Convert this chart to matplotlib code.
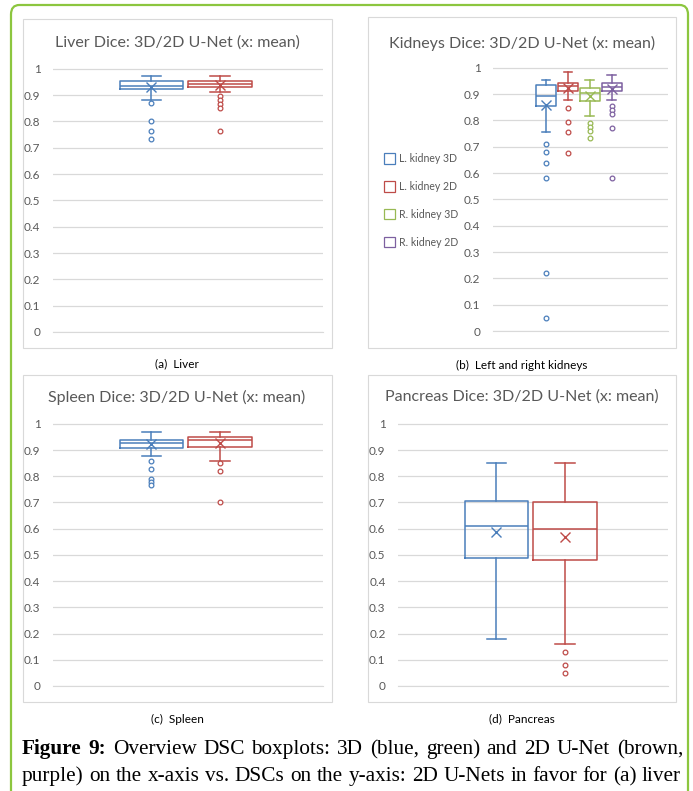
import numpy as np
import matplotlib
matplotlib.use("Agg")
import matplotlib.pyplot as plt
from matplotlib.patches import FancyBboxPatch, Rectangle, Patch

# ---- data ----
liver_q1 = [0.922, 0.931]
liver_med = [0.936, 0.941]
liver_q3 = [0.952, 0.952]
liver_lo = [0.883, 0.912]
liver_hi = [0.972, 0.972]
liver_mean = [0.932, 0.940]
liver_fliers = [[0.871, 0.802, 0.763, 0.732], [0.896, 0.881, 0.866, 0.851, 0.763]]

kidney_labels = ["L. kidney 3D", "L. kidney 2D", "R. kidney 3D", "R. kidney 2D"]
kidney_q1 = [0.855, 0.913, 0.872, 0.910]
kidney_med = [0.892, 0.930, 0.905, 0.927]
kidney_q3 = [0.934, 0.944, 0.923, 0.944]
kidney_lo = [0.755, 0.876, 0.815, 0.876]
kidney_hi = [0.953, 0.984, 0.954, 0.973]
kidney_mean = [0.860, 0.923, 0.892, 0.918]
kidney_fliers = [[0.71, 0.68, 0.64, 0.58, 0.22, 0.05],
                 [0.846, 0.794, 0.755, 0.675],
                 [0.790, 0.775, 0.760, 0.734],
                 [0.856, 0.840, 0.823, 0.773, 0.58]]

spleen_q1 = [0.909, 0.911]
spleen_med = [0.925, 0.938]
spleen_q3 = [0.938, 0.948]
spleen_lo = [0.879, 0.859]
spleen_hi = [0.970, 0.970]
spleen_mean = [0.922, 0.925]
spleen_fliers = [[0.859, 0.829, 0.791, 0.778, 0.765], [0.849, 0.820, 0.700]]

pancreas_q1 = [0.490, 0.482]
pancreas_med = [0.610, 0.600]
pancreas_q3 = [0.706, 0.700]
pancreas_lo = [0.180, 0.160]
pancreas_hi = [0.851, 0.851]
pancreas_mean = [0.589, 0.567]
pancreas_fliers = [[], [0.130, 0.081, 0.051]]

titles = ["Liver Dice: 3D/2D U-Net (x: mean)", "Kidneys Dice: 3D/2D U-Net (x: mean)",
          "Spleen Dice: 3D/2D U-Net (x: mean)", "Pancreas Dice: 3D/2D U-Net (x: mean)"]
subcaps = ["(a)  Liver", "(b)  Left and right kidneys", "(c)  Spleen", "(d)  Pancreas"]
yticks = [0, 0.1, 0.2, 0.3, 0.4, 0.5, 0.6, 0.7, 0.8, 0.9, 1]
ytick_labels = ["0", "0.1", "0.2", "0.3", "0.4", "0.5", "0.6", "0.7", "0.8", "0.9", "1"]

BLUE, RED, GREEN, PURPLE = "#4A7EBB", "#BE4B48", "#98B954", "#7D60A0"
GRID = "#D9D9D9"
TXT = "#595959"

W, H = 693, 791
fig = plt.figure(figsize=(W / 100, H / 100), dpi=100)


def fx(px):
    return px / W


def fy(py):
    return 1 - py / H


def stats_list(q1, med, q3, lo, hi, mean, fliers):
    out = []
    for i in range(len(q1)):
        out.append(dict(q1=q1[i], med=med[i], q3=q3[i], whislo=lo[i], whishi=hi[i],
                        mean=mean[i], fliers=fliers[i]))
    return out


def panel(box_px, frame_px, title, title_xy, subcap, sub_xy, stats, colors, xlim, width, capw):
    l, t, r, b = box_px
    ax = fig.add_axes([fx(l), fy(b), (r - l) / W, (b - t) / H])
    fl, ft, fr, fb = frame_px
    fig.patches.append(Rectangle((fx(fl), fy(fb)), (fr - fl) / W, (fb - ft) / H,
                                 transform=fig.transFigure, fill=False, ec=GRID, lw=0.8))
    art = ax.bxp(stats, positions=range(1, len(stats) + 1), widths=width, capwidths=capw,
                 showmeans=True, patch_artist=False)
    for i, c in enumerate(colors):
        art["boxes"][i].set(color=c, lw=1.1)
        art["medians"][i].set(color=c, lw=1.1)
        for k in (2 * i, 2 * i + 1):
            art["whiskers"][k].set(color=c, lw=1.1)
            art["caps"][k].set(color=c, lw=1.1)
        art["fliers"][i].set(marker="o", mfc="white", mec=c, ms=3.4, mew=0.9)
        art["means"][i].set(marker="x", mec=c, mfc=c, ms=6.5, mew=1.0)
    ax.set_xlim(*xlim)
    ax.set_ylim(0, 1.003)
    ax.set_yticks(yticks)
    ax.set_yticklabels(ytick_labels)
    ax.set_xticks([])
    ax.yaxis.grid(True, color=GRID, lw=0.9)
    ax.set_axisbelow(True)
    for s in ("top", "right", "left"):
        ax.spines[s].set_visible(False)
    ax.spines["bottom"].set_color(GRID)
    ax.tick_params(axis="y", length=0, pad=9, labelsize=8.5, labelcolor=TXT)
    for lab in ax.get_yticklabels():
        lab.set_family("Lato")
    fig.text(fx(title_xy[0]), fy(title_xy[1]), title, ha="center", va="center",
             fontsize=11.5, color=TXT, family="Lato")
    fig.text(fx(sub_xy[0]), fy(sub_xy[1]), subcap, ha="center", va="center",
             fontsize=8.5, color="black", family="Lato")
    return ax


pair = [BLUE, RED]
panel((53, 68, 323, 332), (23, 19, 332, 348), titles[0], (177, 43), subcaps[0], (177, 364),
      stats_list(liver_q1, liver_med, liver_q3, liver_lo, liver_hi, liver_mean, liver_fliers),
      pair, (-0.44, 3.51), 0.93, 0.29)
axk = panel((493, 67, 668, 331), (368, 17, 676, 348), titles[1], (522, 43), subcaps[1], (522, 365),
            stats_list(kidney_q1, kidney_med, kidney_q3, kidney_lo, kidney_hi, kidney_mean, kidney_fliers),
            [BLUE, RED, GREEN, PURPLE], (-1.42, 6.57), 0.91, 0.4)
panel((53, 423, 323, 686), (23, 375, 332, 702), titles[2], (177, 397), subcaps[2], (177, 719),
      stats_list(spleen_q1, spleen_med, spleen_q3, spleen_lo, spleen_hi, spleen_mean, spleen_fliers),
      pair, (-0.44, 3.51), 0.93, 0.29)
panel((398, 423, 668, 686), (368, 375, 676, 702), titles[3], (522, 397), subcaps[3], (522, 719),
      stats_list(pancreas_q1, pancreas_med, pancreas_q3, pancreas_lo, pancreas_hi, pancreas_mean, pancreas_fliers),
      pair, (-0.44, 3.51), 0.93, 0.29)

# kidney legend on the left of the plot area
handles = [Patch(facecolor="white", edgecolor=c, lw=0.9) for c in [BLUE, RED, GREEN, PURPLE]]
leg = fig.legend(handles, kidney_labels, loc="upper left", bbox_to_anchor=(fx(384), fy(153)),
                 frameon=False, handlelength=1.0, handleheight=1.15,
                 handletextpad=0.45, labelspacing=1.6, borderaxespad=0, borderpad=0,
                 prop={"family": "Lato", "size": 7.6})
for tx in leg.get_texts():
    tx.set_color(TXT)

# green rounded frame around the figure (runs off the bottom)
fig.patches.append(FancyBboxPatch((fx(11), fy(830)), (688 - 11) / W, (830 - 5) / H,
                                  boxstyle="round,pad=0,rounding_size=0.012",
                                  transform=fig.transFigure, fill=False, ec="#8CC63F", lw=1.6))

# caption, justified like the source text
renderer = fig.canvas.get_renderer()


def justify(words, base_py, x0, x1, size=15.3):
    items = []
    for w, weight in words:
        items.append(fig.text(0, fy(base_py), w, fontsize=size, fontweight=weight,
                              family="Liberation Serif", va="baseline", ha="left"))
    widths = [t.get_window_extent(renderer).width for t in items]
    gap = (x1 - x0 - sum(widths)) / (len(items) - 1)
    x = x0
    for t, wd in zip(items, widths):
        t.set_x(fx(x))
        x += wd + gap


line1 = [("Figure", "bold"), ("9:", "bold")] + [(w, "normal") for w in
         "Overview DSC boxplots: 3D (blue, green) and 2D U-Net (brown,".split()]
line2 = [(w, "normal") for w in
         "purple) on the x-axis vs. DSCs on the y-axis: 2D U-Nets in favor for (a) liver".split()]
justify(line1, 754, 22, 683)
justify(line2, 781, 22, 681)

fig.savefig("out.png", dpi=100)
